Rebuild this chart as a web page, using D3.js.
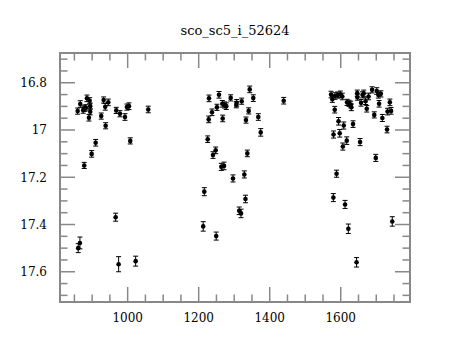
<!DOCTYPE html>
<html>
<head>
  <title>sco_sc5_i_52624</title>
  <script src="https://d3js.org/d3.v7.min.js"></script>
  <style>
    body { margin: 0; background: #fff; }
    text { font-family: "DejaVu Serif", serif; fill: #000; }
  </style>
</head>
<body>
  <svg id="chart" width="460" height="340"></svg>

  <script>
    var dates = [
      859.2, 866.5, 874.9, 877.7, 882.5, 885.4, 893.0, 894.6, 894.6, 891.0,
      909.9, 898.6, 877.7, 925.6, 932.4, 936.9, 945.4, 938.0, 967.9, 978.3,
      992.4, 998.0, 1003.7, 1007.3, 1058.0, 860.8, 865.6, 966.2, 974.6, 1022.5,
      1229.0, 1257.2, 1237.5, 1228.2, 1251.5, 1266.5, 1273.2, 1277.7, 1290.1, 1267.6,
      1305.9, 1307.0, 1321.1, 1343.7, 1353.8, 1340.8, 1333.2, 1367.9, 1374.6, 1439.4,
      1225.4, 1247.9, 1240.3, 1263.7, 1271.3, 1336.9, 1296.6, 1328.5, 1215.8, 1212.7,
      1249.3, 1331.8, 1314.1, 1319.2,
      1572.7, 1576.3, 1583.9, 1591.5, 1598.9, 1604.5, 1583.1, 1593.8, 1579.7, 1597.2,
      1608.5, 1605.9, 1616.9, 1617.7, 1623.4, 1628.2, 1629.9, 1634.6, 1646.5, 1646.8,
      1657.2, 1661.4, 1664.8, 1669.9, 1673.2, 1678.3, 1688.2, 1654.4, 1694.4, 1701.4,
      1705.9, 1713.0, 1707.9, 1717.2, 1731.8, 1738.3, 1741.7, 1730.4, 1698.6, 1588.2,
      1579.2, 1612.1, 1621.4, 1644.5, 1745.1
    ];
    var mags = [
      16.920, 16.890, 16.916, 16.908, 16.906, 16.866, 16.876, 16.899, 16.923, 16.948,
      17.054, 17.101, 17.150, 16.941, 16.873, 16.902, 16.883, 16.982, 16.917, 16.931,
      16.945, 16.903, 16.899, 17.046, 16.913, 17.500, 17.478, 17.369, 17.568, 17.555,
      16.866, 16.851, 16.925, 16.955, 16.904, 16.889, 16.894, 16.899, 16.864, 16.951,
      16.893, 16.885, 16.878, 16.828, 16.865, 16.919, 16.958, 16.945, 17.010, 16.876,
      17.039, 17.086, 17.106, 17.156, 17.152, 17.099, 17.205, 17.188, 17.261, 17.408,
      17.449, 17.292, 17.342, 17.353,
      16.850, 16.870, 16.856, 16.852, 16.849, 16.858, 16.914, 16.963, 17.019, 17.014,
      16.981, 17.070, 17.045, 16.883, 16.887, 16.892, 16.904, 16.975, 16.844, 16.861,
      16.885, 16.851, 16.845, 16.878, 16.910, 16.858, 16.830, 17.051, 16.936, 16.835,
      16.852, 16.847, 16.889, 16.949, 16.922, 16.883, 16.919, 16.998, 17.118, 17.185,
      17.286, 17.315, 17.418, 17.560, 17.387
    ];
    var errs = [
      0.013, 0.014, 0.013, 0.013, 0.013, 0.014, 0.013, 0.013, 0.013, 0.014,
      0.014, 0.014, 0.013, 0.013, 0.013, 0.014, 0.014, 0.013, 0.013, 0.013,
      0.014, 0.013, 0.014, 0.013, 0.014, 0.019, 0.025, 0.017, 0.032, 0.021,
      0.014, 0.014, 0.014, 0.014, 0.013, 0.014, 0.013, 0.014, 0.013, 0.014,
      0.013, 0.014, 0.013, 0.014, 0.014, 0.013, 0.013, 0.014, 0.016, 0.014,
      0.014, 0.014, 0.014, 0.015, 0.016, 0.014, 0.015, 0.015, 0.017, 0.020,
      0.017, 0.016, 0.016, 0.018,
      0.014, 0.013, 0.014, 0.013, 0.014, 0.014, 0.014, 0.016, 0.015, 0.016,
      0.015, 0.015, 0.016, 0.013, 0.013, 0.014, 0.014, 0.014, 0.013, 0.013,
      0.014, 0.013, 0.014, 0.014, 0.014, 0.014, 0.013, 0.015, 0.013, 0.014,
      0.013, 0.013, 0.014, 0.015, 0.014, 0.014, 0.014, 0.014, 0.015, 0.015,
      0.017, 0.017, 0.020, 0.020, 0.020
    ];

    var xTickValues = [1000, 1200, 1400, 1600];
    var yTickValues = [16.8, 17, 17.2, 17.4, 17.6];
    var yTickLabels = ["16.8", "17", "17.2", "17.4", "17.6"];
    var title = "sco_sc5_i_52624";

    var margin = { top: 53, right: 50, bottom: 38, left: 60 };
    var width = 460 - margin.left - margin.right;
    var height = 340 - margin.top - margin.bottom;

    var svg = d3.select("#chart")
      .append("g")
      .attr("transform", "translate(" + margin.left + "," + margin.top + ")");

    var x = d3.scaleLinear().domain([809.5, 1795]).range([0, width]);
    var y = d3.scaleLinear().domain([16.674, 17.728]).range([0, height]);

    var axisColor = "#888";

    // minor + major ticks, drawn inward on all four sides
    var xMinor = d3.range(850, 1795, 50);
    var yMinor = d3.range(16.7, 17.73, 0.05);

    function isMajorX(v) { return xTickValues.indexOf(v) >= 0; }
    function isMajorY(v) { return yTickValues.some(function(t) { return Math.abs(t - v) < 1e-6; }); }

    var ticks = svg.append("g").attr("stroke", axisColor).attr("stroke-width", 1.5);

    xMinor.forEach(function(v) {
      var len = isMajorX(v) ? 15 : 7.5;
      var px = x(v);
      ticks.append("line").attr("x1", px).attr("x2", px).attr("y1", height).attr("y2", height - len);
      ticks.append("line").attr("x1", px).attr("x2", px).attr("y1", 0).attr("y2", len);
    });
    yMinor.forEach(function(v) {
      var len = isMajorY(v) ? 15 : 7.5;
      var py = y(v);
      ticks.append("line").attr("x1", 0).attr("x2", len).attr("y1", py).attr("y2", py);
      ticks.append("line").attr("x1", width).attr("x2", width - len).attr("y1", py).attr("y2", py);
    });

    svg.append("rect")
      .attr("width", width)
      .attr("height", height)
      .attr("fill", "none")
      .attr("stroke", axisColor)
      .attr("stroke-width", 2);

    // tick labels
    svg.selectAll(".xlab")
      .data(xTickValues)
      .enter().append("text")
      .attr("x", function(d) { return x(d); })
      .attr("y", height + 20)
      .attr("text-anchor", "middle")
      .style("font-size", "12px")
      .text(function(d) { return d; });

    svg.selectAll(".ylab")
      .data(yTickValues)
      .enter().append("text")
      .attr("x", -13)
      .attr("y", function(d) { return y(d); })
      .attr("dy", "0.36em")
      .attr("text-anchor", "end")
      .style("font-size", "12px")
      .text(function(d, i) { return yTickLabels[i]; });

    svg.append("text")
      .attr("x", width / 2)
      .attr("y", -18)
      .attr("text-anchor", "middle")
      .style("font-size", "13px")
      .text(title);

    // points with error bars
    var pts = dates.map(function(d, i) { return { t: d, m: mags[i], e: errs[i] }; });

    var g = svg.append("g");
    var bars = g.selectAll(".err").data(pts).enter().append("g")
      .attr("stroke", "#000").attr("stroke-width", 1);

    bars.append("line")
      .attr("x1", function(d) { return x(d.t); })
      .attr("x2", function(d) { return x(d.t); })
      .attr("y1", function(d) { return y(d.m - d.e); })
      .attr("y2", function(d) { return y(d.m + d.e); });
    bars.append("line")
      .attr("x1", function(d) { return x(d.t) - 2.5; })
      .attr("x2", function(d) { return x(d.t) + 2.5; })
      .attr("y1", function(d) { return y(d.m - d.e); })
      .attr("y2", function(d) { return y(d.m - d.e); });
    bars.append("line")
      .attr("x1", function(d) { return x(d.t) - 2.5; })
      .attr("x2", function(d) { return x(d.t) + 2.5; })
      .attr("y1", function(d) { return y(d.m + d.e); })
      .attr("y2", function(d) { return y(d.m + d.e); });

    g.selectAll(".dot").data(pts).enter().append("circle")
      .attr("cx", function(d) { return x(d.t); })
      .attr("cy", function(d) { return y(d.m); })
      .attr("r", 2.3)
      .attr("fill", "#000");
  </script>
</body>
</html>
